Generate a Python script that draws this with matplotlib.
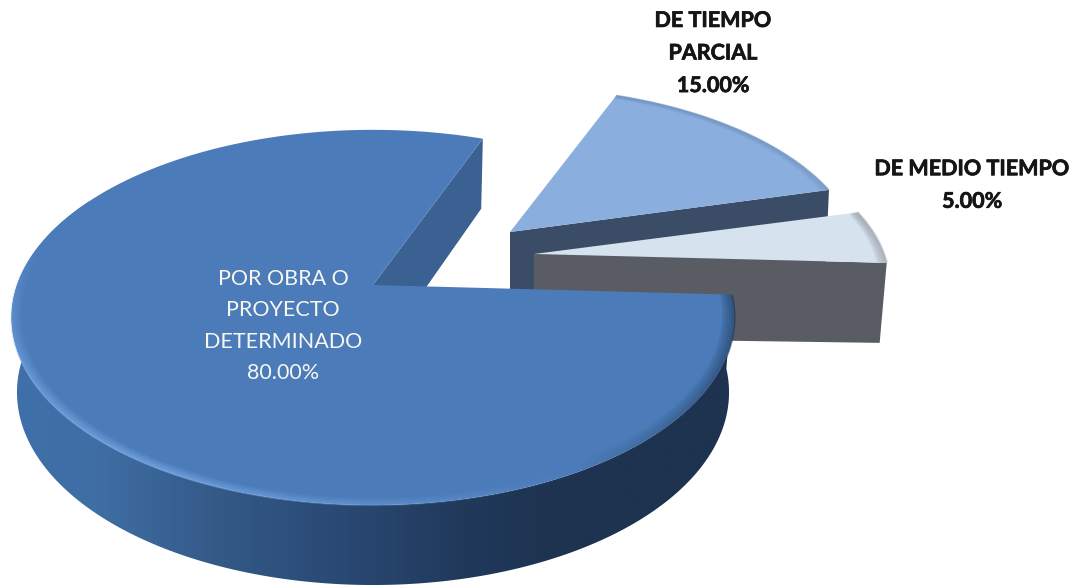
import numpy as np
from matplotlib import pyplot as plt
from matplotlib.patches import Polygon
from matplotlib.collections import LineCollection
from matplotlib.colors import LinearSegmentedColormap, to_rgb
import matplotlib.patheffects as pe

plt.rcParams['font.family'] = ['Lato', 'DejaVu Sans']

# data
categories = ['DE TIEMPO\nPARCIAL', 'DE MEDIO TIEMPO', 'POR OBRA O\nPROYECTO\nDETERMINADO']
values = [15.0, 5.0, 80.0]

START = 69.0  # first slice starts here, going clockwise
K = 0.173     # perspective, far side gets smaller

# slice look: apex x, apex y, radius x, radius y, depth, depth scale x, depth scale y
geom = [
    (510, 232, 345, 170, 72, 0.99, 1.0),
    (534, 254, 350, 168, 80, 0.98, 1.0),
    (373, 285, 356, 182, 74, 0.985, 1.027),
]


def project(g, deg, r=1.0, bottom=False):
    cx, cy, rx, ry, d, sx, sy = g
    th = np.radians(deg)
    u = r * np.cos(th)
    v = r * np.sin(th)
    q = 1 + K * v
    if bottom:
        return np.column_stack([cx + rx * sx * u / q, cy + d - ry * sy * v / q])
    return np.column_stack([cx + rx * u / q, cy - ry * v / q])


# slice angles come from the values
spans = np.array(values) / np.sum(values) * 360
ends = START - np.cumsum(spans)
starts = ends + spans

fig = plt.figure(figsize=(10.71, 5.87), dpi=100)
ax = fig.add_axes([0, 0, 1, 1])
ax.axis('off')


def top_face(g, a0, a1, color, z):
    arc = project(g, np.linspace(a0, a1, 400))
    ax.add_patch(Polygon(np.vstack([[g[0], g[1]], arc]), closed=True, fc=color, ec='none', zorder=z))


def cut_wall(g, deg, color, z):
    top = project(g, np.array([deg]))[0]
    bot = project(g, np.array([deg]), bottom=True)[0]
    ax.add_patch(Polygon([[g[0], g[1]], top, bot, [g[0], g[1] + g[4] + 4]], closed=True,
                         fc=color, ec='none', zorder=z))


def rim(g, a0, a1, color, z, width=1.5, fade=None, depth=0.975, strength=0.55):
    deg = np.linspace(a0, a1, 300)
    for i, r in enumerate(np.linspace(1.0, depth, 6)):
        p = project(g, deg, r=r)
        segs = np.stack([p[:-1], p[1:]], axis=1)
        alpha = strength * (1 - i / 6) * np.ones(len(segs))
        if fade is not None:
            alpha = alpha * fade(deg[:-1])
        rgba = np.tile(to_rgb(color) + (0,), (len(segs), 1))
        rgba[:, 3] = alpha
        ax.add_collection(LineCollection(segs, colors=rgba, linewidths=width, zorder=z))


# 15 % slice
g15 = geom[0]
cut_wall(g15, ends[0], '#3a4c66', 1)
top_face(g15, starts[0], ends[0], '#8aafdf', 2)
rim(g15, starts[0], ends[0], '#6f8db8', 2.5, width=1.0)

# 5 % slice
g5 = geom[1]
cut_wall(g5, ends[1], '#595c62', 3)
top_face(g5, starts[1], ends[1], '#d7e2ef', 4)
rim(g5, starts[1], ends[1], '#8f959c', 4.5, width=1.6)

# 80 % slice: far cut wall, outer wall with gradient, top
g80 = geom[2]
cut_wall(g80, ends[2], '#3a6191', 5)

wall_deg = np.linspace(150, starts[2] + 360, 300)
wall_top = project(g80, wall_deg)
wall_bot = project(g80, wall_deg, bottom=True)
wall = Polygon(np.vstack([wall_top, wall_bot[::-1]]), closed=True, fc='none', ec='none', zorder=5)
ax.add_patch(wall)
cmap = LinearSegmentedColormap.from_list('wall', [
    (0.00, '#3f70aa'), (0.13, '#3f6ea5'), (0.29, '#345a88'),
    (0.45, '#2a4a75'), (0.62, '#213a5c'), (0.75, '#1d3350'), (1.00, '#1d3350'),
])
img = ax.imshow(np.linspace(0, 1, 400).reshape(1, -1), cmap=cmap, extent=(0, 740, 587, 0),
                aspect='auto', zorder=6, interpolation='bilinear')
img.set_clip_path(wall)

top_face(g80, starts[2], ends[2], '#4b7bb8', 7)

# rim shading on the big slice, light on the left, dark near the right end
rim(g80, 165, 300, '#7fb2ee', 8, width=1.5,
    fade=lambda d: np.clip(np.minimum((d - 165) / 40, (300 - d) / 60), 0, 1))
rim(g80, 300, starts[2] + 360, '#1d3350', 8, width=1.5, depth=0.97, strength=0.7,
    fade=lambda d: np.clip((d - 300) / 40, 0, 1))

ax.set_xlim(0, 1071)
ax.set_ylim(587, 0)

# labels
pct = ['%.2f%%' % v for v in values]
bold = dict(ha='center', va='center', fontsize=15.5, fontweight='bold', color='#151515', zorder=10,
            path_effects=[pe.withStroke(linewidth=0.5, foreground='#151515')])
ax.text(713, 53, categories[0] + '\n' + pct[0], linespacing=1.68, **bold)
ax.text(972, 185, categories[1] + '\n' + pct[1], linespacing=1.68, **bold)
ax.text(283, 326, categories[2] + '\n' + pct[2], ha='center', va='center', fontsize=15.5, color='#f7f7f2',
        linespacing=1.72, zorder=10)

fig.savefig('out.png', dpi=100, facecolor='white')
